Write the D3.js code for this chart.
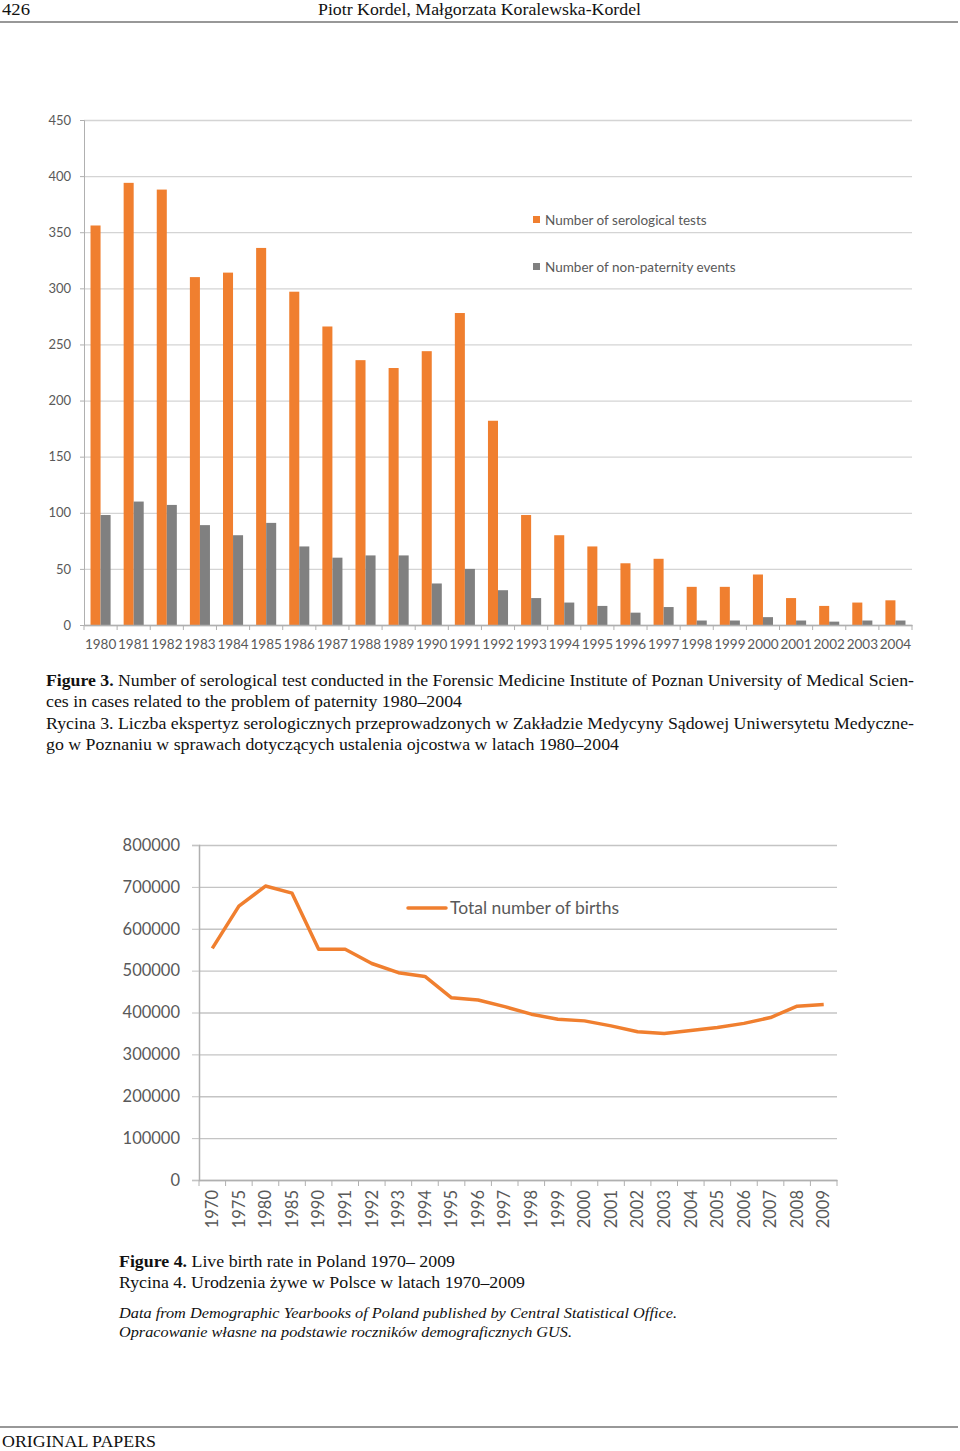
<!DOCTYPE html>
<html>
<head>
<meta charset="utf-8">
<script src="https://cdn.jsdelivr.net/npm/d3@7"></script>
<style>
  body { margin: 0; background: #fff; }
  svg { display: block; }
  .serif { font-family: "Liberation Serif", "Times New Roman", serif; fill: #111; }
  .axis text { font-family: Lato, "Open Sans", sans-serif; fill: #595959; }
</style>
</head>
<body>
<svg id="page" width="960" height="1451"></svg>
<script>
// figure 3 data
const years3 = ['1980', '1981', '1982', '1983', '1984', '1985', '1986', '1987', '1988', '1989', '1990', '1991', '1992',
  '1993', '1994', '1995', '1996', '1997', '1998', '1999', '2000', '2001', '2002', '2003', '2004'];
const serologicalTests = [356, 394, 388, 310, 314, 336, 297, 266, 236, 229, 244, 278, 182,
  98, 80, 70, 55, 59, 34, 34, 45, 24, 17, 20, 22];
const nonPaternity = [98, 110, 107, 89, 80, 91, 70, 60, 62, 62, 37, 50, 31,
  24, 20, 17, 11, 16, 4, 4, 7, 4, 3, 4, 4];
const yTicks3 = [0, 50, 100, 150, 200, 250, 300, 350, 400, 450];

// figure 4 data
const years4 = ['1970', '1975', '1980', '1985', '1990', '1991', '1992', '1993', '1994', '1995', '1996', '1997',
  '1998', '1999', '2000', '2001', '2002', '2003', '2004', '2005', '2006', '2007', '2008', '2009'];
const births = [553000, 654000, 702000, 685000, 551000, 551000, 517000, 495000, 486000, 435000, 430000, 414000,
  396000, 384000, 380000, 368000, 354000, 350000, 357000, 364000, 374000, 388000, 415000, 419000];
const yTicks4 = [0, 100000, 200000, 300000, 400000, 500000, 600000, 700000, 800000];

const orange = '#F07F2F';
const grey = '#808080';

const svg = d3.select('#page');

// serif line of text, stretched to the width it has in the print
const serifLine = (parent, x, y, size, width, parts, anchor) => {
  const t = parent.append('text').attr('class', 'serif')
    .attr('x', x).attr('y', y).style('font-size', size + 'px')
    .attr('textLength', width).attr('lengthAdjust', 'spacingAndGlyphs');
  if (anchor) t.attr('text-anchor', anchor);
  parts.forEach(([s, style]) => {
    const sp = t.append('tspan').text(s);
    if (style === 'b') sp.style('font-weight', 'bold');
    if (style === 'i') sp.style('font-style', 'italic');
  });
  return t;
};

// page header
serifLine(svg, 2, 15, 17.5, 28, [['426']]);
serifLine(svg, 318, 15, 17.5, 323, [['Piotr Kordel, Małgorzata Koralewska-Kordel']]);
svg.append('line').attr('x1', 0).attr('x2', 958).attr('y1', 22).attr('y2', 22)
  .attr('stroke', '#333').attr('stroke-width', 1.2);

// ---------- Figure 3: grouped bars ----------
const x3 = d3.scaleBand().domain(years3).range([84, 912]);
const y3 = d3.scaleLinear().domain([0, 450]).range([625, 120]);
const inner = d3.scaleBand().domain(['tests', 'nonpat']).range([0, x3.bandwidth()]).paddingOuter(0.65);

const g3 = svg.append('g');

g3.append('g').attr('class', 'axis')
  .attr('transform', 'translate(84,0)')
  .call(d3.axisLeft(y3).tickValues(yTicks3).tickSize(-828).tickFormat(''))
  .call(g => g.select('.domain').remove())
  .call(g => g.selectAll('line').attr('stroke', '#d4d4d4').attr('stroke-width', 1.3));

const yAxis3 = g3.append('g').attr('class', 'axis')
  .attr('transform', 'translate(84,0)')
  .call(d3.axisLeft(y3).tickValues(yTicks3).tickSize(4).tickPadding(9));
yAxis3.select('.domain').attr('stroke', '#b0b0b0');
yAxis3.selectAll('line').attr('stroke', '#b0b0b0');
yAxis3.selectAll('text').style('font-size', '13px');

const groups = g3.selectAll('.yr').data(years3).enter().append('g')
  .attr('transform', d => `translate(${x3(d)},0)`);
groups.append('rect')
  .attr('x', inner('tests')).attr('width', inner.bandwidth())
  .attr('y', (d, i) => y3(serologicalTests[i]))
  .attr('height', (d, i) => y3(0) - y3(serologicalTests[i]))
  .attr('fill', orange);
groups.append('rect')
  .attr('x', inner('nonpat')).attr('width', inner.bandwidth())
  .attr('y', (d, i) => y3(nonPaternity[i]))
  .attr('height', (d, i) => y3(0) - y3(nonPaternity[i]))
  .attr('fill', grey);

const xAxis3 = g3.append('g').attr('class', 'axis')
  .attr('transform', 'translate(0,625)')
  .call(d3.axisBottom(x3).tickSize(0).tickPadding(14));
xAxis3.select('.domain').attr('stroke', '#b0b0b0').attr('stroke-width', 1.3);
xAxis3.selectAll('text').style('font-size', '13.5px');
xAxis3.selectAll('.sep').data(years3.concat(['end'])).enter().append('line')
  .attr('x1', d => d === 'end' ? 912 : x3(d)).attr('x2', d => d === 'end' ? 912 : x3(d))
  .attr('y1', 0).attr('y2', 5).attr('stroke', '#b0b0b0');

const legend3 = g3.append('g').attr('class', 'axis');
[['Number of serological tests', orange, 220], ['Number of non-paternity events', grey, 267]]
  .forEach(([label, col, cy]) => {
    legend3.append('rect').attr('x', 533).attr('y', cy - 4).attr('width', 7).attr('height', 7).attr('fill', col);
    legend3.append('text').attr('x', 545).attr('y', cy + 5).style('font-size', '13.5px').text(label);
  });

// caption figure 3
const cap3 = svg.append('g');
serifLine(cap3, 46, 686, 17, 868, [['Figure 3.', 'b'],
  [' Number of serological test conducted in the Forensic Medicine Institute of Poznan University of Medical Scien-']]);
serifLine(cap3, 46, 707, 17, 416, [['ces in cases related to the problem of paternity 1980–2004']]);
serifLine(cap3, 46, 729, 17, 868,
  [['Rycina 3. Liczba ekspertyz serologicznych przeprowadzonych w Zakładzie Medycyny Sądowej Uniwersytetu Medyczne-']]);
serifLine(cap3, 46, 750, 17, 573, [['go w Poznaniu w sprawach dotyczących ustalenia ojcostwa w latach 1980–2004']]);

// ---------- Figure 4: line ----------
const x4 = d3.scaleBand().domain(years4).range([199, 837]);
const y4 = d3.scaleLinear().domain([0, 800000]).range([1180, 845]);

const g4 = svg.append('g');

g4.append('g').attr('class', 'axis')
  .attr('transform', 'translate(199,0)')
  .call(d3.axisLeft(y4).tickValues(yTicks4).tickSize(-638).tickFormat(''))
  .call(g => g.select('.domain').remove())
  .call(g => g.selectAll('line').attr('stroke', '#c4c4c4').attr('stroke-width', 1.3));

const yAxis4 = g4.append('g').attr('class', 'axis')
  .attr('transform', 'translate(199,0)')
  .call(d3.axisLeft(y4).tickValues(yTicks4).tickSize(7).tickPadding(12).tickFormat(d3.format('d')));
yAxis4.select('.domain').attr('stroke', '#b0b0b0').attr('stroke-width', 1.5);
yAxis4.selectAll('line').attr('stroke', '#c4c4c4');
yAxis4.selectAll('text').style('font-size', '16.5px');

const xAxis4 = g4.append('g').attr('class', 'axis')
  .attr('transform', 'translate(0,1180)')
  .call(d3.axisBottom(x4).tickSize(0).tickPadding(0));
xAxis4.select('.domain').attr('stroke', '#b0b0b0').attr('stroke-width', 1.3);
xAxis4.selectAll('text')
  .style('font-size', '16.5px')
  .attr('text-anchor', 'end')
  .attr('dy', '0.35em')
  .attr('transform', 'translate(0,10) rotate(-90)');
xAxis4.selectAll('.sep').data(years4.concat(['end'])).enter().append('line')
  .attr('x1', d => d === 'end' ? 837 : x4(d)).attr('x2', d => d === 'end' ? 837 : x4(d))
  .attr('y1', 0).attr('y2', 6).attr('stroke', '#b0b0b0');

const line = d3.line()
  .x((d, i) => x4(years4[i]) + x4.bandwidth() / 2)
  .y(d => y4(d));
g4.append('path').datum(births)
  .attr('d', line)
  .attr('fill', 'none')
  .attr('stroke', orange)
  .attr('stroke-width', 3.5)
  .attr('stroke-linejoin', 'round');

const legend4 = g4.append('g').attr('class', 'axis');
legend4.append('line').attr('x1', 408).attr('x2', 446).attr('y1', 908).attr('y2', 908)
  .attr('stroke', orange).attr('stroke-width', 3.5).attr('stroke-linecap', 'round');
legend4.append('text').attr('x', 450).attr('y', 914).style('font-size', '17.5px').text('Total number of births');

// caption figure 4
const cap4 = svg.append('g');
serifLine(cap4, 119, 1267, 17, 336, [['Figure 4.', 'b'], [' Live birth rate in Poland 1970– 2009']]);
serifLine(cap4, 119, 1288, 17, 406, [['Rycina 4. Urodzenia żywe w Polsce w latach 1970–2009']]);
serifLine(cap4, 119, 1318, 15.5, 558, [['Data from Demographic Yearbooks of Poland published by Central Statistical Office.', 'i']]);
serifLine(cap4, 119, 1337, 15.5, 453, [['Opracowanie własne na podstawie roczników demograficznych GUS.', 'i']]);

// page footer
svg.append('line').attr('x1', 0).attr('x2', 958).attr('y1', 1427).attr('y2', 1427)
  .attr('stroke', '#333').attr('stroke-width', 1.2);
serifLine(svg, 2, 1447, 17, 154, [['ORIGINAL PAPERS']]);
</script>
</body>
</html>
